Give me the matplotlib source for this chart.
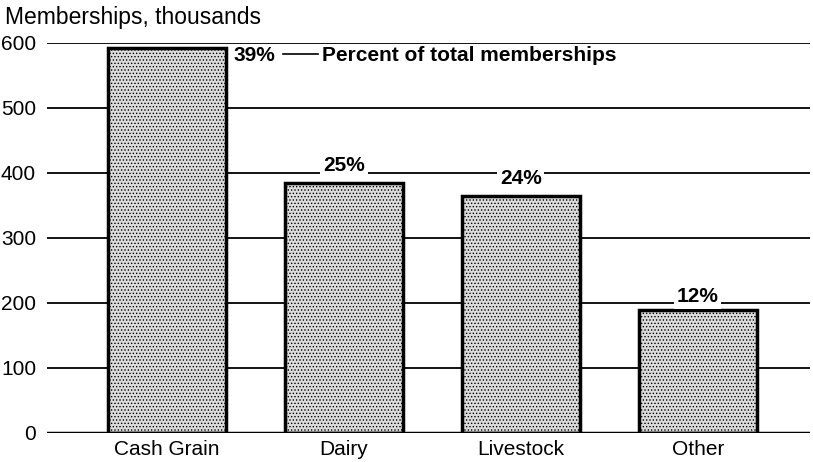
import matplotlib
matplotlib.use('Agg')
import matplotlib.pyplot as plt

plt.rcParams['font.family'] = ['Liberation Sans', 'DejaVu Sans']
plt.rcParams['hatch.color'] = '#555555'
plt.rcParams['hatch.linewidth'] = 0.6

categories = ["Cash Grain", "Dairy", "Livestock", "Other"]
memberships = [593, 385, 364, 189]   # thousands
percents = ["39%", "25%", "24%", "12%"]
yticks = [0, 100, 200, 300, 400, 500, 600]

fig = plt.figure(figsize=(8.13, 4.62), dpi=100)
ax = fig.add_axes([0.058, 0.063, 0.938, 0.844])

x = range(len(categories))
ax.bar(x, memberships, width=0.667, facecolor='#dcdcdc', edgecolor='black',
       linewidth=2.5, hatch='.....', zorder=3)

# horizontal rules behind bars
for t in yticks[1:]:
    ax.axhline(t, color='black', linewidth=1.3, zorder=1)
ax.axhline(0, color='black', linewidth=2.5, zorder=4)

ax.set_xlim(-0.678, 3.633)
ax.set_ylim(0, 600)
ax.set_yticks(yticks)
ax.set_yticklabels([str(t) for t in yticks], fontsize=15)
ax.set_xticks(list(x))
ax.set_xticklabels(categories, fontsize=15)
ax.tick_params(axis='both', length=0, pad=5)
ax.tick_params(axis='y', pad=8)
for s in ax.spines.values():
    s.set_visible(False)

# percent labels
bbox = dict(facecolor='white', edgecolor='none', pad=2)
ax.text(0.373, 581, percents[0], fontsize=15, fontweight='bold', va='center', ha='left', zorder=5)
ax.plot([0.655, 0.853], [583, 583], color='black', linewidth=1.2, zorder=5)
ax.text(0.873, 581, "Percent of total memberships", fontsize=15, fontweight='bold',
        va='center', ha='left', zorder=5)
ax.text(1.0, 411, percents[1], fontsize=15, fontweight='bold', ha='center', va='center',
        bbox=bbox, zorder=5)
ax.text(2.0, 392, percents[2], fontsize=15, fontweight='bold', ha='center', va='center',
        bbox=bbox, zorder=5)
ax.text(3.0, 210, percents[3], fontsize=15, fontweight='bold', ha='center', va='center',
        bbox=bbox, zorder=5)

fig.text(0.006, 0.962, "Memberships, thousands", fontsize=16.5, ha='left', va='center')

fig.savefig("out.png", dpi=100)
